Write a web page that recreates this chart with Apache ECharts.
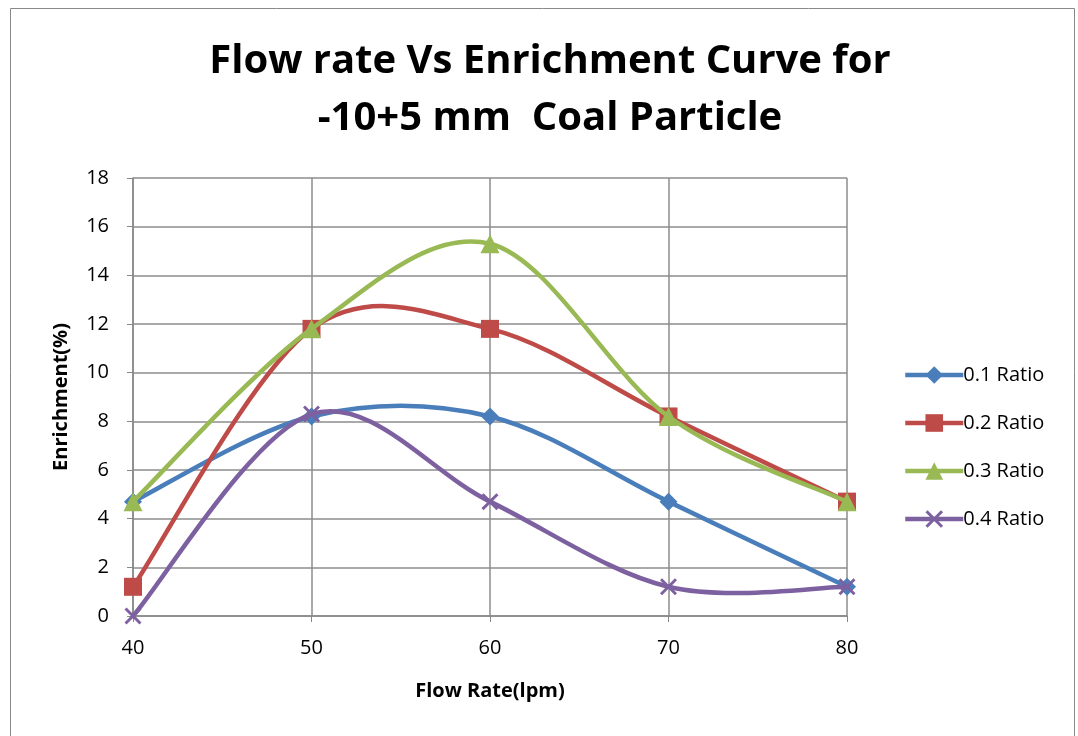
<!DOCTYPE html>
<html lang="en">
<head>
    <meta charset="UTF-8">
    <title>Flow rate Vs Enrichment</title>
    <script src="https://cdn.jsdelivr.net/npm/echarts@6/dist/echarts.min.js"></script>
    <style>
        html, body { margin: 0; padding: 0; background: #fff; }
    </style>
</head>
<body>
<div id="main" style="width:1078px; height:736px"></div>

<script type="text/javascript">
    // flow rates (lpm) and enrichment (%) per ratio
    var flowRates = [40, 50, 60, 70, 80];
    var ratio01 = [4.7, 8.2, 8.2, 4.7, 1.2];
    var ratio02 = [1.2, 11.8, 11.8, 8.2, 4.7];
    var ratio03 = [4.7, 11.8, 15.3, 8.2, 4.7];
    var ratio04 = [0, 8.3, 4.7, 1.2, 1.2];
    var seriesNames = ['0.1 Ratio', '0.2 Ratio', '0.3 Ratio', '0.4 Ratio'];
    var colors = ['#4A7EBB', '#BE4B48', '#98B954', '#7D60A0'];

    var font = 'Open Sans';
    var crossPath = 'path://M0,1.2L1.2,0L5,3.8L8.8,0L10,1.2L6.2,5L10,8.8L8.8,10L5,6.2L1.2,10L0,8.8L3.8,5Z';

    function pairs(vals) {
        return flowRates.map(function (x, i) { return [x, vals[i]]; });
    }

    // spreadsheet-style smoothed curve (catmull-rom, 1/6 tangents) built from
    // the data points mapped through the chart's own axes
    function curveRenderer(vals, color) {
        return function (params, api) {
            if (params.dataIndex !== 0) return;
            var p = vals.map(function (v, i) { return api.coord([flowRates[i], v]); });
            var d = 'M' + p[0][0] + ',' + p[0][1];
            for (var i = 0; i < p.length - 1; i++) {
                var p0 = p[Math.max(i - 1, 0)];
                var p1 = p[i];
                var p2 = p[i + 1];
                var p3 = p[Math.min(i + 2, p.length - 1)];
                var c1x = p1[0] + (p2[0] - p0[0]) / 6;
                var c1y = p1[1] + (p2[1] - p0[1]) / 6;
                var c2x = p2[0] - (p3[0] - p1[0]) / 6;
                var c2y = p2[1] - (p3[1] - p1[1]) / 6;
                d += 'C' + c1x + ',' + c1y + ',' + c2x + ',' + c2y + ',' + p2[0] + ',' + p2[1];
            }
            return {
                type: 'path',
                shape: { pathData: d },
                style: { fill: 'none', stroke: color, lineWidth: 4.5, lineCap: 'round', lineJoin: 'round' },
                silent: true
            };
        };
    }

    var symbols = ['diamond', 'rect', 'triangle', crossPath];
    var symbolSizes = [18, 18, 19, 17];
    var allVals = [ratio01, ratio02, ratio03, ratio04];

    var series = [];
    allVals.forEach(function (vals, k) {
        // markers (and legend entry)
        series.push({
            name: seriesNames[k],
            type: 'line',
            data: pairs(vals),
            symbol: symbols[k],
            symbolSize: symbolSizes[k],
            showAllSymbol: true,
            lineStyle: { color: colors[k], width: 4.5, opacity: 0 },
            itemStyle: { color: colors[k] },
            emphasis: { disabled: true },
            z: 3 + k * 2
        });
        // smoothed line
        series.push({
            name: seriesNames[k],
            type: 'custom',
            coordinateSystem: 'cartesian2d',
            renderItem: curveRenderer(vals, colors[k]),
            data: pairs(vals),
            z: 2 + k * 2,
            clip: false
        });
    });

    var legendData = seriesNames.map(function (n, k) {
        return {
            name: n,
            lineStyle: { color: colors[k], width: 4.5, opacity: 1 }
        };
    });

    var chart = echarts.init(document.getElementById('main'));
    var option = {
        animation: false,
        title: {
            text: 'Flow rate Vs Enrichment Curve for\n-10+5 mm  Coal Particle',
            left: 545,
            top: 28,
            textAlign: 'center',
            textStyle: {
                fontFamily: font,
                fontWeight: 'bold',
                fontSize: 40,
                lineHeight: 57,
                color: '#000'
            }
        },
        graphic: [{
            type: 'rect',
            shape: { x: 10.5, y: 8.5, width: 1064, height: 740 },
            style: { fill: 'none', stroke: '#888', lineWidth: 1 },
            silent: true
        }],
        legend: {
            orient: 'vertical',
            left: 898,
            top: 360,
            itemGap: 28,
            itemWidth: 58,
            itemHeight: 22,
            data: legendData,
            textStyle: { fontFamily: font, fontSize: 20, color: '#000', padding: [0, 0, 0, -5] }
        },
        grid: {
            left: 133,
            right: 231,
            top: 178,
            bottom: 120
        },
        xAxis: {
            type: 'value',
            min: 40,
            max: 80,
            interval: 10,
            name: 'Flow Rate(lpm)',
            nameLocation: 'middle',
            nameGap: 65,
            nameTextStyle: { fontFamily: font, fontWeight: 'bold', fontSize: 20, color: '#000' },
            axisLine: { lineStyle: { color: '#888', width: 1.5 } },
            axisTick: { show: true, length: 6, lineStyle: { color: '#888' } },
            axisLabel: { fontFamily: font, fontSize: 20, color: '#000', margin: 22 },
            splitLine: { show: true, lineStyle: { color: '#8c8c8c', width: 1.5 } }
        },
        yAxis: {
            type: 'value',
            min: 0,
            max: 18,
            interval: 2,
            name: 'Enrichment(%)',
            nameLocation: 'middle',
            nameGap: 62,
            nameRotate: 90,
            nameTextStyle: { fontFamily: font, fontWeight: 'bold', fontSize: 20, color: '#000' },
            axisLine: { show: true, lineStyle: { color: '#888', width: 1.5 } },
            axisTick: { show: true, length: 6, lineStyle: { color: '#888' } },
            axisLabel: { fontFamily: font, fontSize: 20, color: '#000', margin: 24 },
            splitLine: { show: true, lineStyle: { color: '#8c8c8c', width: 1.5 } }
        },
        series: series
    };
    chart.setOption(option);
</script>
</body>
</html>
